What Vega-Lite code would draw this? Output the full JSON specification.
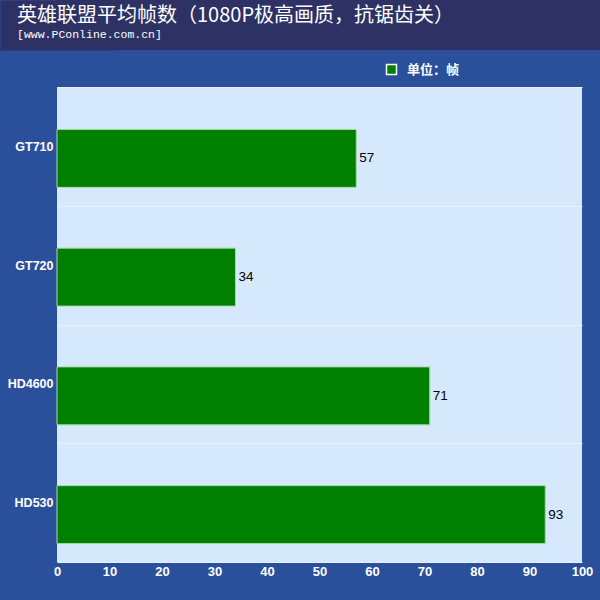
{
  "$schema": "https://vega.github.io/schema/vega-lite/v6.json",
  "background": "#2a4f9b",
  "padding": {"left": 0, "top": 0, "right": 0, "bottom": 30},
  "spacing": 26,
  "columns": 1,
  "bounds": "full",
  "concat": [
    {
      "width": 543,
      "height": 50,
      "view": {"fill": "#2e3164", "stroke": null},
      "title": {
        "text": "英雄联盟平均帧数（1080P极高画质，抗锯齿关）",
        "subtitle": "[www.PConline.com.cn]",
        "anchor": "start",
        "frame": "group",
        "offset": -40,
        "dx": -40,
        "color": "white",
        "font": "Noto Sans CJK SC",
        "fontSize": 20,
        "fontWeight": "normal",
        "subtitleColor": "white",
        "subtitleFont": "Liberation Mono",
        "subtitleFontSize": 11.5,
        "subtitlePadding": 3
      },
      "data": {"values": [{}]},
      "mark": {"type": "text"},
      "encoding": {
        "text": {"value": ""},
        "y": {
          "datum": 0,
          "type": "quantitative",
          "scale": {"domain": [0, 1]},
          "axis": {
            "title": null,
            "domain": true,
            "domainColor": "#2e3164",
            "domainWidth": 114,
            "domainCap": "butt",
            "ticks": false,
            "labels": false,
            "grid": false
          }
        }
      }
    },
    {
      "width": 525,
      "height": 475,
      "view": {"fill": "#d6e9fc", "stroke": null},
      "data": {
        "values": [
          {"card": "GT710", "fps": 57, "unit": "单位：帧"},
          {"card": "GT720", "fps": 34, "unit": "单位：帧"},
          {"card": "HD4600", "fps": 71, "unit": "单位：帧"},
          {"card": "HD530", "fps": 93, "unit": "单位：帧"}
        ]
      },
      "encoding": {
        "y": {
          "field": "card",
          "type": "nominal",
          "sort": null,
          "scale": {"paddingInner": 0, "paddingOuter": 0},
          "axis": {
            "title": null,
            "tickBand": "extent",
            "grid": true,
            "gridColor": "#e6f1fd",
            "gridWidth": 1,
            "domain": false,
            "ticks": false,
            "labelColor": "white",
            "labelFont": "Liberation Sans",
            "labelFontWeight": "bold",
            "labelFontSize": 12.5,
            "labelPadding": 4,
            "minExtent": 57,
            "maxExtent": 57
          }
        },
        "x": {
          "field": "fps",
          "type": "quantitative",
          "scale": {"domain": [0, 100], "nice": false},
          "axis": {
            "title": null,
            "values": [0, 10, 20, 30, 40, 50, 60, 70, 80, 90, 100],
            "grid": false,
            "domain": false,
            "ticks": false,
            "labelFlush": false,
            "labelOverlap": false,
            "labelColor": "white",
            "labelFont": "Liberation Sans",
            "labelFontWeight": "bold",
            "labelFontSize": 13,
            "labelPadding": 3
          }
        }
      },
      "layer": [
        {
          "mark": {
            "type": "bar",
            "height": {"band": 0.488},
            "yOffset": 12,
            "stroke": "#a8d8a8",
            "strokeWidth": 1
          },
          "encoding": {
            "color": {
              "field": "unit",
              "type": "nominal",
              "scale": {"range": ["#008000"]},
              "legend": {
                "title": null,
                "orient": "none",
                "legendX": 328,
                "legendY": 63,
                "padding": 0,
                "symbolType": "square",
                "symbolSize": 100,
                "symbolFillColor": "#008000",
                "symbolStrokeColor": "white",
                "symbolStrokeWidth": 1.5,
                "symbolOpacity": 1,
                "labelColor": "white",
                "labelFont": "Noto Sans CJK SC",
                "labelFontSize": 13,
                "labelFontWeight": "bold",
                "labelOffset": 9
              }
            }
          }
        },
        {
          "mark": {
            "type": "text",
            "align": "left",
            "baseline": "middle",
            "dx": 3,
            "yOffset": 12,
            "font": "Liberation Sans",
            "fontSize": 13.5,
            "color": "black"
          },
          "encoding": {"text": {"field": "fps", "type": "quantitative"}}
        }
      ]
    }
  ]
}
